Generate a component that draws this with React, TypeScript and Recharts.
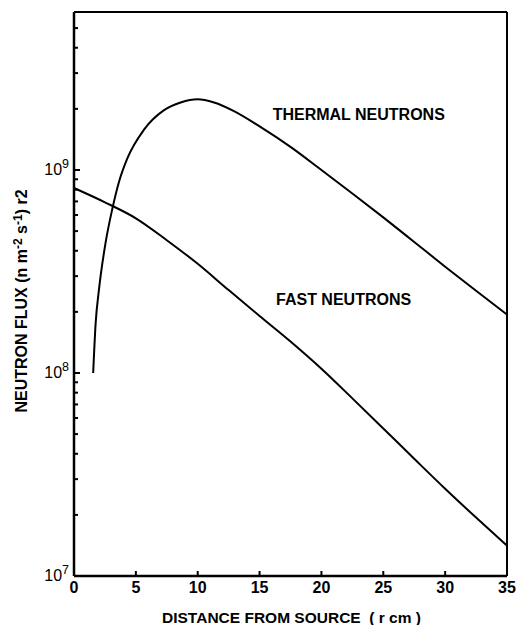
import { LineChart, Line, XAxis, YAxis, ReferenceLine, ReferenceDot } from 'recharts';

// distance from source (cm) and flux * r^2
const thermalDistance = [1.55, 1.75, 2.02, 2.56, 3.1, 3.64, 4.31, 5.66, 7.28, 8.62, 10.0, 11.32, 12.93, 15, 17.5, 20, 22.5, 25, 27.5, 30, 32.5, 35];
const thermalFlux = [1.0e8, 1.76e8, 2.58e8, 4.41e8, 6.44e8, 8.75e8, 1.14e9, 1.58e9, 1.97e9, 2.15e9, 2.23e9, 2.15e9, 1.95e9, 1.64e9, 1.3e9, 1.0e9, 7.66e8, 5.84e8, 4.42e8, 3.34e8, 2.54e8, 1.94e8];

const fastDistance = [0, 2.5, 5, 7.5, 10, 12.5, 15, 17.5, 20, 22.5, 25, 27.5, 30, 32.5, 35];
const fastFlux = [8.15e8, 6.93e8, 5.78e8, 4.51e8, 3.45e8, 2.56e8, 1.91e8, 1.43e8, 1.05e8, 7.5e7, 5.33e7, 3.78e7, 2.69e7, 1.94e7, 1.41e7];

const xTicks = [0, 5, 10, 15, 20, 25, 30, 35];
const yTicks = [
  1e7, 2e7, 3e7, 4e7, 5e7, 6e7, 7e7, 8e7, 9e7,
  1e8, 2e8, 3e8, 4e8, 5e8, 6e8, 7e8, 8e8, 9e8,
  1e9, 2e9, 3e9, 4e9, 5e9
];
const yDomain = [1e7, 6e9];

const thermalData = thermalDistance.map((r, i) => ({ r, flux: thermalFlux[i] }));
const fastData = fastDistance.map((r, i) => ({ r, flux: fastFlux[i] }));

const font = '"Liberation Sans", Arial, sans-serif';

const YTick = (props: any) => {
  const { x, y, payload } = props;
  const v = payload.value;
  const exp = Math.round(Math.log10(v));
  const major = Math.abs(v / Math.pow(10, exp) - 1) < 1e-6;
  return (
    <g>
      <line x1={x} x2={x + (major ? 6 : 4)} y1={y} y2={y} stroke="#000" strokeWidth={2} />
      {major && (
        <text x={x - 5} y={y + 5} textAnchor="end" fontSize={16} fontFamily={font} fill="#000">
          10<tspan dy={-7} fontSize={12.5}>{exp}</tspan>
        </text>
      )}
    </g>
  );
};

const XTick = (props: any) => {
  const { x, y, payload } = props;
  return (
    <g>
      <line x1={x} x2={x} y1={y} y2={y - 5} stroke="#000" strokeWidth={2} />
      <text x={x} y={y + 17} textAnchor="middle" fontSize={16} fontWeight="bold" fontFamily={font} fill="#000">
        {payload.value}
      </text>
    </g>
  );
};

const CurveLabel = ({ viewBox, text }: any) => (
  <text x={viewBox.x} y={viewBox.y + 5} fontSize={16} fontWeight="bold" fontFamily={font} fill="#000">
    {text}
  </text>
);

export default function App() {
  return (
    <div style={{ position: 'absolute', left: 0, top: 0, background: '#fff' }}>
      <LineChart width={516} height={625} margin={{ top: 12, right: 9, bottom: 0, left: 0 }}>
        <XAxis
          type="number"
          dataKey="r"
          domain={[0, 35]}
          ticks={xTicks}
          interval={0}
          height={49}
          tickSize={0}
          tickMargin={0}
          tickLine={false}
          axisLine={{ stroke: '#000', strokeWidth: 2.5 }}
          tick={<XTick />}
          label={{
            content: ({ viewBox }: any) => (
              <text
                x={viewBox.x + viewBox.width / 2 + 1}
                y={623}
                textAnchor="middle"
                fontSize={15.5}
                fontWeight="bold"
                fontFamily={font}
                fill="#000"
                style={{ whiteSpace: 'pre' }}
              >
                DISTANCE FROM SOURCE  ( r cm )
              </text>
            )
          }}
        />
        <YAxis
          type="number"
          scale="log"
          domain={yDomain}
          allowDataOverflow
          ticks={yTicks}
          interval={0}
          width={74}
          tickSize={0}
          tickMargin={0}
          tickLine={false}
          axisLine={{ stroke: '#000', strokeWidth: 2.5 }}
          tick={<YTick />}
          label={{
            content: () => (
              <text transform="translate(27, 301) rotate(-90)" textAnchor="middle" fontSize={16} fontWeight="bold" fontFamily={font} fill="#000">
                NEUTRON FLUX (n m<tspan dy={-5} fontSize={12}>-2</tspan>
                <tspan dy={5}> s</tspan>
                <tspan dy={-5} fontSize={12}>-1</tspan>
                <tspan dy={5}>) r2</tspan>
              </text>
            )
          }}
        />
        <ReferenceLine y={6e9} stroke="#000" strokeWidth={2} ifOverflow="extendDomain" />
        <ReferenceLine x={35} stroke="#000" strokeWidth={2} ifOverflow="extendDomain" />
        <Line data={thermalData} dataKey="flux" type="monotone" stroke="#000" strokeWidth={2} dot={false} isAnimationActive={false} />
        <Line data={fastData} dataKey="flux" type="monotone" stroke="#000" strokeWidth={2} dot={false} isAnimationActive={false} />
        <ReferenceDot x={16.06} y={1.86e9} r={0} stroke="none" label={<CurveLabel text="THERMAL NEUTRONS" />} />
        <ReferenceDot x={16.33} y={2.28e8} r={0} stroke="none" label={<CurveLabel text="FAST NEUTRONS" />} />
      </LineChart>
    </div>
  );
}
